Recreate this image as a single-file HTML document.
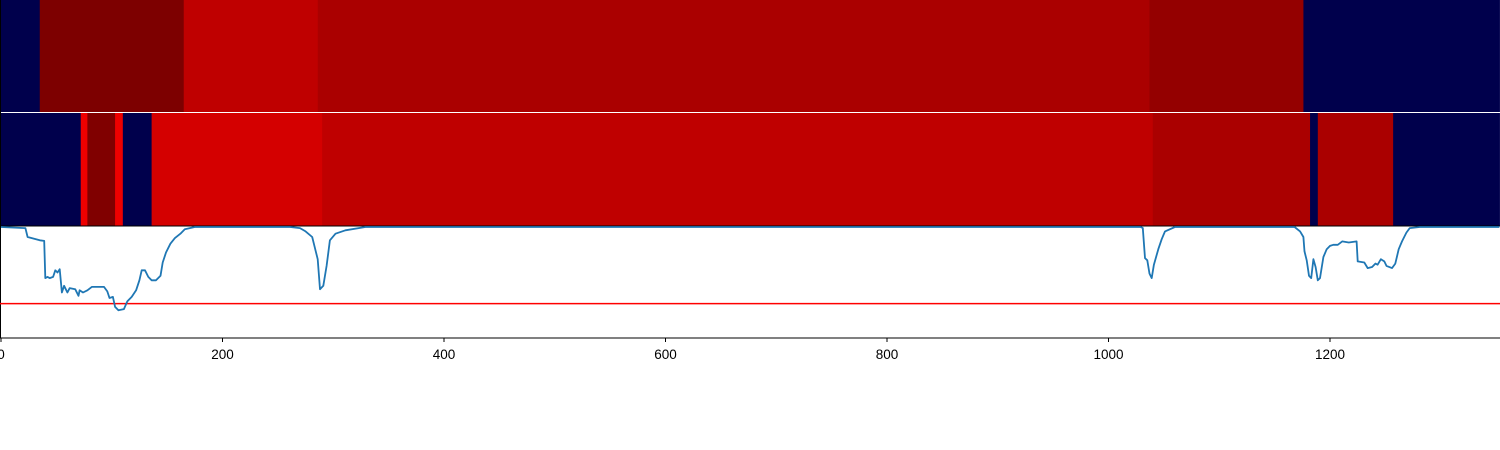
<!DOCTYPE html>
<html><head><meta charset="utf-8"><style>
body{margin:0;background:#fff;font-family:"Liberation Sans",sans-serif}
svg{display:block}
</style></head><body>
<svg id="chart" width="1500" height="450"></svg>
<script>
const bandEdges1=[0,35,165,286,1037,1176,1353];
const bandColors1=["#00004c","#7d0000","#bf0000","#aa0000","#940000","#00004c"];
const bandEdges2=[0,72,78,103,110,136,290,1040,1182,1189,1257,1353];
const bandColors2=["#00004c","#ee0000","#800000","#ee0000","#00004c","#d40000","#bf0000","#aa0000","#00004c","#aa0000","#00004c"];
const lineX=[0,22,24,35,39,40,42,44,47,49,51,53,55,57,60,62,67,70,71,74,78,82,87,93,96,98,101,103,106,111,114,118,122,125,127,130,133,136,140,144,146,149,153,157,162,166,175,261,270,275,281,284,286,288,291,294,297,302,311,329,360,541,722,902,1029,1031,1033,1035,1037,1039,1041,1045,1048,1051,1060,1168,1173,1176,1177,1179,1181,1183,1185,1187,1189,1191,1194,1197,1200,1203,1207,1211,1217,1224,1225,1231,1234,1238,1241,1243,1246,1249,1251,1256,1259,1262,1265,1269,1272,1281,1353];
const lineY=[1.0,0.99,0.91,0.88,0.875,0.54,0.55,0.54,0.55,0.61,0.59,0.62,0.41,0.47,0.41,0.45,0.44,0.38,0.43,0.41,0.43,0.46,0.46,0.46,0.42,0.36,0.37,0.28,0.25,0.26,0.33,0.37,0.43,0.52,0.61,0.61,0.55,0.52,0.52,0.56,0.68,0.77,0.85,0.90,0.94,0.98,1.0,1.0,0.99,0.96,0.91,0.79,0.71,0.44,0.47,0.65,0.88,0.94,0.97,1.0,1.0,1.0,1.0,1.0,1.0,0.99,0.72,0.70,0.58,0.54,0.66,0.80,0.89,0.96,1.0,1.0,0.96,0.91,0.78,0.70,0.56,0.54,0.71,0.64,0.52,0.54,0.73,0.80,0.83,0.84,0.84,0.87,0.86,0.87,0.69,0.68,0.63,0.64,0.67,0.66,0.71,0.69,0.65,0.63,0.67,0.80,0.87,0.95,0.99,1.0,1.0];
const threshold=0.31;
const xTicks=[0,200,400,600,800,1000,1200];
const NS="http://www.w3.org/2000/svg";
const svg=document.getElementById("chart");
const X0=1,KX=1.1075;
function sx(v){return X0+v*KX;}
function sy(v){return 338-v*111;}
function mk(t,a,p){const e=document.createElementNS(NS,t);for(const k in a)e.setAttribute(k,a[k]);(p||svg).appendChild(e);return e;}
function bands(edges,colors,y,h,name){
  for(let i=0;i<colors.length;i++){
    const r=mk("rect",{x:sx(edges[i]),y:y,width:sx(edges[i+1])-sx(edges[i])+0.5,height:h,fill:colors[i]});
    
    
  }
}
bands(bandEdges1,bandColors1,0,112,"top-heatmap");
bands(bandEdges2,bandColors2,113,113,"middle-heatmap");
const frame=mk("rect",{x:0.5,y:226,width:1500,height:112,fill:"none",stroke:"#000","stroke-width":1});


const ax=mk("line",{x1:0.5,y1:0,x2:0.5,y2:338,stroke:"#000","stroke-width":1});


const th=mk("line",{x1:0,x2:1500,y1:303,y2:303,stroke:"#ff0000","stroke-width":1.5});
th.setAttribute('y1',sy(threshold));
th.setAttribute('y2',sy(threshold));


let d="";
for(let i=0;i<lineX.length;i++)d+=(i?"L":"M")+sx(lineX[i]).toFixed(1)+","+sy(lineY[i]).toFixed(1);
const pl=mk("path",{d:d,fill:"none",stroke:"#1f77b4","stroke-width":1.8,"stroke-linejoin":"round"});


xTicks.forEach(t=>{
  const tk=mk("line",{x1:sx(t),x2:sx(t),y1:338,y2:342,stroke:"#000","stroke-width":1});
  
  
  const tx=mk("text",{x:sx(t),y:359,"text-anchor":"middle","font-size":13.5,fill:"#000"});
  tx.textContent=t;
  
  
});
</script>
</body></html>
